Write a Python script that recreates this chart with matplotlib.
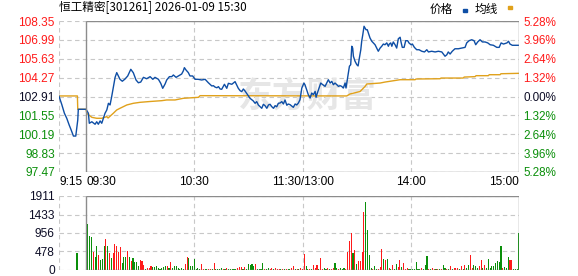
import matplotlib
matplotlib.use("Agg")
import matplotlib.pyplot as plt
from matplotlib.patches import Rectangle

# x axis = minutes on the compressed trading clock, 0 = 09:30, 120 = 11:30/13:00, 240 = 15:00
# (pre-market auction runs from -15 = 09:15)
prev_close = 102.91
price_levels = [97.47, 98.83, 100.19, 101.55, 102.91, 104.27, 105.63, 106.99, 108.35]
pct_labels = ["5.28%", "3.96%", "2.64%", "1.32%", "0.00%", "1.32%", "2.64%", "3.96%", "5.28%"]
vol_levels = [0, 478, 956, 1433, 1911]
time_ticks = [-15, 0, 60, 120, 180, 240]
time_labels = ["9:15", "09:30", "10:30", "11:30/13:00", "14:00", "15:00"]

price_min = [-15, -13.5, -12.0, -10.7, -9.4, -8.3, -7.0, -5.7, -4.6, -4.3, 0,
             1.3, 1.8, 3.2, 5, 5.9, 6.8, 7.8, 8.7, 9.6, 10.5, 11.5, 12.4, 13.3, 14.2,
             15.1, 16.1, 17.0, 17.9, 18.8, 20.1, 21.6, 23.1, 24.8, 26.2, 27.7, 29.0,
             30.3, 31.8, 33.6, 35.5, 37.0, 38.2, 40.1, 41.4, 42.5, 43.8, 44.7, 46.2,
             47.5, 48.4, 49.9, 51.2, 53.0, 53.9, 54.5, 55.4, 56.7, 57.6, 59.1, 60.4,
             62.1, 64.1, 66.0, 67.8, 69.7, 70.6, 71.5, 72.5, 73.4, 74.3, 75.2, 76.7,
             78.0, 78.9, 80.8, 82.6, 83.9, 84.4, 85.4, 86.3, 87.2, 88.1, 89.0, 89.9,
             90.9, 92.7, 93.7, 94.6, 95.5, 96.5, 97.4, 98.3, 99.2, 100.2, 101.1, 102.0,
             103.0, 103.9, 104.8, 105.7, 106.6, 107.5, 108.5, 109.4, 110.3, 111.3, 112.1,
             113.1, 114.9, 115.9, 116.8, 117.7, 118.6, 119.6, 120.8, 121.4, 122.3, 123.2,
             124.2, 125.1, 126.0, 127.0, 127.5, 128.4, 129.3, 130.1, 131.2, 132.5, 133.4,
             134.3, 135.3, 136.2, 137.1, 138.0, 139.0, 139.9, 140.8, 141.7, 142.6, 143.6,
             144.1, 144.8, 145.4, 146.0, 146.7, 147.3, 147.8, 148.2, 149.1, 150.1, 150.8,
             151.5, 152.3, 152.8, 153.4, 154.1, 155.2, 155.9, 156.5, 157.4, 158.4, 159.3,
             160.2, 161.1, 162.0, 163.0, 163.9, 164.8, 165.7, 166.7, 167.6, 168.1, 168.9,
             169.5, 170.3, 171.3, 172.2, 173.1, 174.1, 174.6, 175.3, 176.3, 177.2, 178.3,
             179.0, 180.2, 180.9, 182.0, 183.3, 184.6, 186.1, 187.6, 188.9, 189.8, 191.6,
             193.5, 195.3, 197.2, 198.1, 199.0, 200.0, 200.8, 201.8, 203.0, 204.5, 206.4,
             208.3, 210.1, 211.0, 212.3, 213.8, 215.1, 216.0, 217.1, 218.4, 219.7, 221.2,
             222.7, 224.0, 225.8, 227.7, 229.0, 230.1, 231.4, 233.3, 234.2, 235.0, 236.3, 240]
price_val = [102.93, 102.35, 101.70, 101.34, 100.87, 100.51, 100.06, 100.06, 101.22, 101.99, 101.99,
             101.70, 100.98, 101.09, 100.91, 101.09, 100.91, 101.15, 100.98, 101.34, 101.70, 101.94,
             102.42, 102.30, 102.90, 103.57, 104.29, 104.63, 104.39, 104.15, 104.01, 104.17, 104.39,
             104.87, 104.62, 104.10, 103.90, 103.95, 104.29, 104.19, 104.34, 104.15, 104.29, 104.15,
             103.86, 103.50, 103.81, 104.10, 104.34, 104.34, 104.46, 104.29, 104.39, 104.53, 104.75,
             104.99, 104.82, 104.63, 104.39, 104.39, 104.15, 104.15, 104.10, 104.15, 103.90, 103.67,
             103.69, 103.59, 103.54, 103.62, 103.45, 103.43, 103.79, 103.50, 103.86, 103.79, 103.98,
             103.62, 103.50, 103.33, 103.26, 103.45, 103.31, 103.14, 102.97, 102.78, 102.59, 102.42,
             102.54, 102.30, 102.17, 102.06, 102.35, 102.25, 102.06, 102.30, 102.35, 102.17, 102.06,
             102.25, 102.17, 102.42, 102.44, 102.54, 102.37, 102.66, 102.28, 102.37, 102.32, 102.13,
             102.37, 102.30, 102.44, 102.68, 103.52, 103.88, 103.74, 103.40, 103.04, 102.80, 103.16,
             103.04, 103.28, 102.85, 103.23, 103.57, 103.88, 103.76, 103.64, 103.88, 104.12, 103.88,
             104.00, 103.76, 103.88, 103.76, 103.64, 103.69, 103.64, 103.52, 103.88, 103.52, 104.12,
             104.60, 105.09, 105.20, 106.53, 106.40, 105.81, 105.45, 105.20, 105.11, 105.68, 106.28,
             106.89, 107.36, 107.97, 107.72, 107.72, 107.49, 107.13, 106.89, 106.77, 106.64, 106.40,
             106.17, 106.40, 106.53, 106.69, 106.64, 106.77, 106.53, 106.69, 106.77, 106.53, 106.84,
             106.64, 106.40, 107.07, 107.18, 106.84, 106.45, 106.45, 106.93, 106.93, 106.77, 106.64,
             106.69, 106.45, 106.28, 106.28, 106.17, 106.12, 106.28, 106.12, 106.17, 106.12, 106.17,
             106.12, 105.97, 105.81, 105.92, 106.12, 105.97, 106.17, 106.35, 106.35, 106.40, 106.45,
             106.77, 106.93, 107.00, 106.93, 106.64, 106.84, 107.00, 106.84, 106.84, 106.77, 106.64,
             106.60, 106.45, 106.45, 106.77, 106.69, 106.77, 106.89, 106.69, 106.60, 106.60]

avg_min = [-15, -4.8, -4.6, 0, 0.4, 3.2, 5.9, 8.7, 11.5, 12.2, 15.1, 17.0, 18.8, 22.6, 26.2,
           29.9, 35.5, 42.0, 44.7, 49.3, 53.9, 62.3, 63.2, 144.5, 146.3, 149.1, 151.9, 154.7,
           155.6, 163.0, 165.7, 174.1, 182.4, 182.9, 196.2, 196.8, 209.1, 209.6, 215.6, 216.2,
           223.0, 223.5, 229.5, 230.0, 240]
avg_val = [102.95, 102.95, 101.99, 101.99, 101.70, 101.41, 101.34, 101.34, 101.46, 101.36,
           101.70, 101.94, 102.06, 102.30, 102.42, 102.49, 102.55, 102.61, 102.66, 102.66,
           102.78, 102.85, 102.97, 102.95, 103.09, 103.18, 103.27, 103.64, 103.81, 103.88,
           103.95, 104.12, 104.12, 104.17, 104.19, 104.24, 104.24, 104.31, 104.34, 104.41,
           104.41, 104.48, 104.48, 104.55, 104.58]

# one bar per minute, 09:31 .. 15:00, plus the 09:25 auction bar
auction_min = -5
auction_vol = 430
vol = [1190, 880, 840, 470, 330, 620, 390, 260, 280, 620,
       790, 620, 450, 300, 450, 670, 630, 470, 600, 190,
       330, 330, 500, 340, 240, 300, 215, 215, 100, 260,
       230, 130, 20, 45, 45, 100, 70, 70, 100, 45,
       20, 45, 70, 100, 100, 45, 215, 45, 100, 100,
       45, 20, 45, 20, 150, 330, 300, 100, 100, 280,
       20, 45, 20, 155, 20, 20, 20, 20, 20, 20,
       190, 20, 20, 20, 40, 20, 20, 40, 20, 20,
       20, 20, 20, 40, 70, 70, 20, 80, 20, 150,
       130, 150, 100, 160, 20, 20, 20, 180, 20, 20,
       40, 20, 40, 20, 40, 20, 20, 20, 20, 20,
       20, 20, 20, 40, 100, 20, 20, 20, 40, 20,
       410, 100, 20, 20, 20, 120, 40, 130, 20, 300,
       20, 40, 20, 60, 20, 20, 40, 190, 40, 20,
       40, 20, 40, 20, 470, 750, 960, 450, 520, 160,
       220, 220, 470, 1500, 1760, 1030, 390, 40, 20, 100,
       20, 20, 70, 540, 290, 260, 290, 40, 20, 130,
       20, 160, 70, 260, 80, 190, 20, 40, 20, 20,
       20, 20, 210, 20, 20, 40, 20, 120, 360, 20,
       20, 40, 20, 20, 20, 20, 20, 120, 40, 20,
       20, 100, 20, 60, 60, 60, 20, 100, 20, 120,
       60, 120, 390, 60, 120, 100, 40, 100, 260, 60,
       120, 60, 280, 60, 100, 100, 170, 240, 210, 620,
       60, 80, 40, 330, 260, 260, 20, 20, 20, 960]
vol_up = ("gggrggrggg" "rgrgrrrrrg" "ggrgrggggr" "rrgrrrgggg" "ggggrgrggg"
          "ggggrrgggg" "gggrrggrrg" "rggggrgrgg" "gggrrrgrgg" "gggrggggr"
          "g" "grrgrrrgrg" "rggrrgrgrr" "rggrgrrrgr" "rggrgrrggr" "gggrrrrgrg"
          "rrrrggggrg" "grrrgrgrgr" "ggrrgrrrgg" "gggggrgggrg" "rrgrgrggrg"
          "rgrrrgrgrg" "grrgggrrgr" "gggggggggr" "gggrrggggg")
vol_up = vol_up[:240]

RED = "#ff1a1a"
GREEN = "#0a8f0a"
DARK = "#0d0d26"
GRID = "#c8c8c8"
FRAME = "#8c8c8c"
NUM_FONT = "Liberation Sans"

fig = plt.figure(figsize=(5.78, 2.76), dpi=100)
ax = fig.add_axes([59 / 578, 1 - 172 / 276, 460 / 578, 151 / 276])
axv = fig.add_axes([59 / 578, 1 - 270 / 276, 460 / 578, 74 / 276])


def dress(a, levels, lo, hi):
    a.set_xlim(-15, 240)
    a.set_ylim(lo, hi)
    for s in a.spines.values():
        s.set_visible(False)
    a.hlines(levels, -15, 240, colors=GRID, linestyles=(0, (4, 3)), linewidth=0.8, zorder=1)
    a.vlines([-15, 60, 120, 180], lo, hi, colors=GRID, linestyles=(0, (4, 3)), linewidth=0.8, zorder=1)
    a.hlines([lo, hi], 0, 240, colors=FRAME, linewidth=1.0, zorder=5)
    a.vlines([0, 240], lo, hi, colors=FRAME, linewidth=1.0, zorder=5)
    a.set_yticks(levels)
    a.tick_params(axis="y", length=0, pad=3, labelsize=8.6)


# price panel
dress(ax, price_levels, price_levels[0], price_levels[-1])
# faint site watermark in the middle of the chart
ax.text(0.54, 0.5, "东方财富", transform=ax.transAxes, fontsize=25, fontweight="bold",
        color="#e6e6e6", family=["Noto Sans CJK SC"], ha="center", va="center", zorder=2)
ax.plot(avg_min, avg_val, color="#e0a11b", linewidth=1.0, zorder=3)
ax.plot(price_min, price_val, color="#0e4ea5", linewidth=1.0, zorder=4)

ax.set_yticklabels(["%.2f" % v for v in price_levels], family=NUM_FONT)
for lab, v in zip(ax.get_yticklabels(), price_levels):
    lab.set_color(RED if v > prev_close + 0.001 else (GREEN if v < prev_close - 0.001 else DARK))

axr = ax.twinx()
axr.set_ylim(ax.get_ylim())
for s in axr.spines.values():
    s.set_visible(False)
axr.set_yticks(price_levels)
axr.set_yticklabels(pct_labels[::-1], family=NUM_FONT)
axr.tick_params(axis="y", length=0, pad=3, labelsize=8.4)
for lab, v in zip(axr.get_yticklabels(), price_levels):
    lab.set_color(RED if v > prev_close + 0.001 else (GREEN if v < prev_close - 0.001 else DARK))

ax.set_xticks(time_ticks)
ax.set_xticklabels(time_labels, family=NUM_FONT)
ax.tick_params(axis="x", length=0, pad=3, labelsize=8.6, labelcolor="black")
aligns = ["left", "left", "center", "center", "center", "right"]
for lab, al in zip(ax.get_xticklabels(), aligns):
    lab.set_ha(al)

# volume panel
dress(axv, vol_levels, 0, vol_levels[-1])
axv.set_yticklabels([str(v) for v in vol_levels], family=NUM_FONT, color=DARK)
axv.set_xticks([])
colors = [RED if c == "r" else GREEN for c in vol_up]
axv.bar(range(1, 241), vol, width=0.6, color=colors, linewidth=0, zorder=3)
axv.bar([auction_min], [auction_vol], width=0.6, color=GREEN, linewidth=0, zorder=3)

# title and legend
fig.text(59 / 578, 1 - 8 / 276, "恒工精密[301261] 2026-01-09 15:30", fontsize=8.4,
         family=["Noto Sans CJK SC", "DejaVu Sans"], va="center", ha="left")
fig.text(430 / 578, 1 - 9 / 276, "价格", fontsize=8.4, family=["Noto Sans CJK SC"], va="center")
fig.text(475 / 578, 1 - 9 / 276, "均线", fontsize=8.4, family=["Noto Sans CJK SC"], va="center")
fig.patches.append(Rectangle((463 / 578, 1 - 12 / 276), 4 / 578, 3 / 276,
                             transform=fig.transFigure, color="#0e4ea5"))
fig.patches.append(Rectangle((508 / 578, 1 - 9 / 276), 4 / 578, 3 / 276,
                             transform=fig.transFigure, color="#e0a11b"))

fig.savefig("out.png", dpi=100)
